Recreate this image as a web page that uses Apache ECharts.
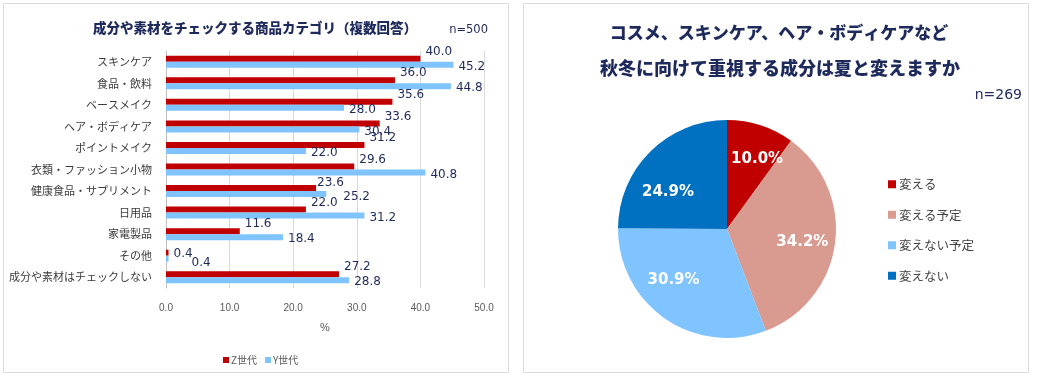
<!DOCTYPE html>
<html><head><meta charset="utf-8">
<script src="https://cdn.jsdelivr.net/npm/echarts@6/dist/echarts.min.js"></script>
<style>html,body{margin:0;padding:0;background:#fff}#c{width:1041px;height:379px}</style>
</head><body><div id="c"></div>
<script>
const categories = ['スキンケア','食品・飲料','ベースメイク','ヘア・ボディケア','ポイントメイク','衣類・ファッション小物','健康食品・サプリメント','日用品','家電製品','その他','成分や素材はチェックしない'];
const zGen = [40.0,36.0,35.6,33.6,31.2,29.6,23.6,22.0,11.6,0.4,27.2];
const yGen = [45.2,44.8,28.0,30.4,22.0,40.8,25.2,31.2,18.4,0.4,28.8];
const barSeriesNames = ['Z世代','Y世代'];
const xTicks = [0,10,20,30,40,50];
const pieNames = ['変える','変える予定','変えない予定','変えない'];
const pieValues = [10.0,34.2,30.9,24.9];

const JP = '"Noto Sans CJK JP", sans-serif';
const NUM = '"DejaVu Sans", "Noto Sans CJK JP", sans-serif';
const navy = '#1f2a5c';
const red = '#c00000', lightBlue = '#7fc4ff';
const pieColors = ['#c00000','#d99a8f','#7fc4ff','#0070c0'];

// style-only label nudges (moved labels in the original)
const zNudge = {'健康食品・サプリメント':[-4,2], 'その他':[0,8]};
const yNudge = {'健康食品・サプリメント':[12,1], 'その他':[18,2]};
const pieNudge = [[6,4],[-2,3],[-9,-13],[-4,18]];

const chart = echarts.init(document.getElementById('c'));
function barData(vals, base, nudge){
  return vals.map((v,i)=>{
    const n = nudge[categories[i]];
    const o = n ? [base[0]+n[0], base[1]+n[1]] : base;
    return {value:v, label:{offset:o}};
  });
}
const pieData = pieNames.map((n,i)=>({name:n, value:pieValues[i], itemStyle:{color:pieColors[i]}}));
chart.setOption({
  animation:false,
  textStyle:{fontFamily:JP},
  graphic:[
    {type:'rect', shape:{x:3.5,y:3.5,width:505,height:369}, style:{fill:'none',stroke:'#d9d9d9',lineWidth:1}, z:-10},
    {type:'rect', shape:{x:523.5,y:3.5,width:505,height:369}, style:{fill:'none',stroke:'#d9d9d9',lineWidth:1}, z:-10},
    {type:'text', x:255, y:28, style:{text:'成分や素材をチェックする商品カテゴリ（複数回答）', font:'900 13.5px '+JP, fill:navy, textAlign:'center', textVerticalAlign:'middle'}},
    {type:'text', x:488, y:30, style:{text:'n=500', font:'11.5px '+NUM, fill:navy, textAlign:'right', textVerticalAlign:'middle'}},
    {type:'text', x:779, y:33, style:{text:'コスメ、スキンケア、ヘア・ボディケアなど', font:'900 17px '+JP, fill:navy, textAlign:'center', textVerticalAlign:'middle'}},
    {type:'text', x:780, y:68, style:{text:'秋冬に向けて重視する成分は夏と変えますか', font:'900 18px '+JP, fill:navy, textAlign:'center', textVerticalAlign:'middle'}},
    {type:'text', x:1022, y:95, style:{text:'n=269', font:'14px '+NUM, fill:navy, textAlign:'right', textVerticalAlign:'middle'}}
  ],
  grid:{left:166, top:51, width:318, height:237, containLabel:false},
  xAxis:{type:'value', min:0, max:50, interval:10,
    axisLine:{show:false}, axisTick:{show:false},
    splitLine:{lineStyle:{color:'#d9d9d9'}},
    axisLabel:{formatter:v=>v.toFixed(1), color:'#595959', fontSize:10, fontFamily:'"Liberation Sans", sans-serif', margin:15},
    name:'%', nameLocation:'middle', nameGap:34, nameTextStyle:{color:'#595959', fontSize:11, fontFamily:'"Liberation Sans", sans-serif'}},
  yAxis:{type:'category', data:categories, inverse:true,
    axisLine:{lineStyle:{color:'#bfbfbf'}}, axisTick:{show:false},
    axisLabel:{color:'#3a3a3a', fontSize:11, margin:14, fontFamily:JP}},
  legend:[
    {data:barSeriesNames, left:218, top:350, itemWidth:6, itemHeight:6, itemGap:8, icon:'rect',
     textStyle:{color:'#595959', fontSize:10, padding:[0,0,0,-3]}},
    {data:pieNames, orient:'vertical', left:883, top:173, itemWidth:8, itemHeight:8, itemGap:18, icon:'rect',
     textStyle:{color:'#404040', fontSize:12.5, padding:[0,0,0,-2]}}
  ],
  series:[
    {name:barSeriesNames[0], type:'bar', data:barData(zGen,[0,-7],zNudge), barWidth:6, barGap:'0%', itemStyle:{color:red},
     label:{show:true, position:'right', distance:5, formatter:p=>p.value.toFixed(1), color:navy, fontSize:12, fontFamily:NUM}},
    {name:barSeriesNames[1], type:'bar', data:barData(yGen,[0,2],yNudge), barWidth:6, barGap:'0%', itemStyle:{color:lightBlue},
     label:{show:true, position:'right', distance:5, formatter:p=>p.value.toFixed(1), color:navy, fontSize:12, fontFamily:NUM}},
    {type:'pie', center:[727,229], radius:[0,109], startAngle:90, clockwise:true, data:pieData,
     label:{show:false}, labelLine:{show:false}, emphasis:{disabled:true}, silent:true},
    {type:'pie', center:[727,229], radius:[0,150], startAngle:90, clockwise:true,
     data:pieNames.map((n,i)=>({name:n, value:pieValues[i], itemStyle:{color:'rgba(0,0,0,0)'}, label:{offset:pieNudge[i]}})),
     label:{show:true, position:'inside', formatter:p=>p.value.toFixed(1)+'%', color:'#fff', fontWeight:'bold', fontSize:15, fontFamily:NUM},
     labelLine:{show:false}, emphasis:{disabled:true}, silent:true, legendHoverLink:false, z:5}
  ]
});
</script></body></html>
